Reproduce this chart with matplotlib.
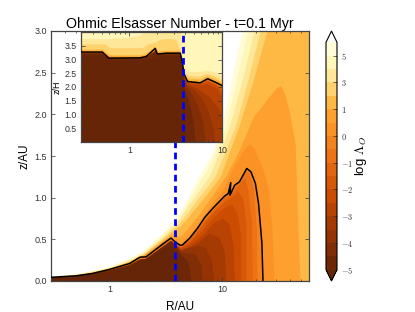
import matplotlib
matplotlib.use("Agg")
import matplotlib.pyplot as plt
from matplotlib.cm import ScalarMappable
from matplotlib.colors import BoundaryNorm, ListedColormap, Normalize

plt.rcParams["font.family"] = ["Liberation Sans"]
plt.rcParams["mathtext.fontset"] = "cm"

# log Lambda contour levels and the labels on the colorbar
levels = [-5, -4.5, -4, -3.5, -3, -2.5, -2, -1.5, -1, -0.5, 0, 0.5, 1, 2, 3, 4, 5, 6]
cbar_ticks = [-5, -4, -3, -2, -1, 0, 1, 3, 5]

# main panel: (R/AU, z/AU) outline of each level
main_p6 = [(.3, .055), (.5, .08), (.7, .12), (1, .17), (1.5, .27), (2, .36), (3, .58), (3.8, .73), (4.8, .95), (6, 1.21), (7, 1.37), (8.2, 1.52), (9.8, 1.81), (12.3, 2.43), (15.1, 3.0), (17, 3.4), (60, 3.4)]
main_p5 = [(.3, .052), (.5, .077), (.7, .115), (1, .162), (1.5, .258), (2, .345), (3, .555), (3.8, .7), (4.8, .9), (6, 1.13), (7, 1.28), (8.2, 1.45), (10.8, 1.85), (13.5, 2.4), (16.9, 3.0), (19, 3.4), (60, 3.4)]
main_p4 = [(.3, .05), (.5, .075), (.7, .11), (1, .155), (1.5, .245), (2, .33), (3, .53), (3.8, .67), (4.3, .76), (5, .9), (6, 1.04), (7.7, 1.25), (10, 1.6), (11.7, 1.85), (15, 2.38), (19.4, 3.0), (22, 3.4), (60, 3.4)]
main_p3 = [(.3, .048), (.5, .07), (.7, .105), (1, .15), (1.5, .235), (2, .32), (3, .51), (3.8, .64), (4.3, .71), (5, .82), (6, .97), (7, 1.08), (8.7, 1.25), (10, 1.45), (13.2, 1.85), (17, 2.4), (22, 3.0), (25, 3.4), (60, 3.4)]
main_p2 = [(.3, .046), (.5, .068), (.7, .1), (1, .145), (1.5, .225), (2, .31), (3, .49), (3.8, .61), (4.3, .66), (5, .76), (6, .89), (7, 1.0), (8, 1.1), (9.7, 1.25), (14.2, 1.85), (19, 2.4), (25.2, 3.0), (29, 3.4), (60, 3.4)]
main_p1 = [(.3, .045), (.5, .066), (.7, .098), (1, .143), (1.5, .22), (2, .305), (3, .48), (3.7, .55), (4.3, .53), (5, .63), (6, .76), (7, .89), (8.2, 1.02), (11, 1.27), (14.2, 1.56), (19, 1.96), (26, 2.2), (31, 2.32), (33.3, 2.34), (36, 2.25), (39.6, 2.05), (45, 1.63), (46.5, 1.0), (49.5, 0)]
main_p05 = [(.3, .044), (.5, .065), (.7, .096), (1, .142), (1.5, .215), (1.85, .295), (2.1, .3), (3.5, .525), (3.8, .485), (4.3, .45), (5.1, .54), (6, .66), (7, .8), (8.2, .92), (10.5, 1.12), (12.9, 1.38), (15.8, 1.58), (17.8, 1.64), (19.4, 1.58), (23, 1.35), (26, 1.1), (28, .6), (29, 0)]
main_p0 = [(.3, .044), (.5, .062), (.7, .09), (1, .14), (1.5, .21), (1.85, .285), (2.1, .29), (3, .45), (3.5, .516), (3.8, .47), (4.2, .43), (4.4, .43), (5.1, .51), (6, .63), (7, .765), (8.2, .87), (10.5, 1.02), (11.3, 1.05), (11.9, 1.18), (11.7, 1.03), (12.9, 1.15), (14.2, 1.19), (16.5, 1.35), (18, 1.31), (19.7, 1.17), (21, .93), (22.5, .455), (23, 0)]
main_m05 = [(.3, .043), (.5, .06), (.7, .088), (1, .135), (1.5, .2), (1.85, .27), (2.1, .28), (3, .435), (3.5, .5), (3.8, .455), (4.3, .42), (5.1, .5), (6, .61), (7, .74), (8.2, .85), (10.5, 1.0), (12.9, 1.12), (14.7, 1.22), (16.3, 1.31), (17.5, 1.29), (19, 1.13), (20.3, .61), (20.6, 0)]
main_left = [(.3, .04), (.5, .056), (.7, .082), (1, .125), (1.5, .19), (1.85, .255), (2.1, .265), (3, .415), (3.5, .48), (3.8, .44)]
main_m1 = main_left + [(4.3, .41), (5.1, .49), (6, .6), (7, .72), (8.2, .84), (10.5, .99), (12.9, 1.08), (14.7, 1.18), (16, 1.23), (17, 1.09), (18.4, .69), (18.6, 0)]
main_m15 = main_left + [(4.3, .4), (5.1, .47), (6, .58), (7, .7), (8.2, .81), (10.5, .95), (12.9, 1.03), (13.7, 1.08), (15.4, .98), (16.4, .69), (16.4, 0)]
main_m2 = main_left + [(4.3, .39), (5.1, .45), (6, .54), (7, .63), (8.2, .75), (10.5, .88), (12.3, .92), (13.7, .8), (14.7, .55), (14.7, 0)]
main_m25 = main_left + [(4.3, .38), (5.1, .42), (6, .49), (7, .57), (8.2, .68), (10.1, .75), (11.6, .68), (12.6, .42), (12.9, 0)]
main_m3 = main_left + [(4.3, .37), (5.1, .4), (6, .45), (6.7, .5), (7.7, .57), (9.4, .52), (10.5, .36), (10.9, 0)]
main_m35 = main_left + [(4.3, .36), (5.1, .4), (6, .42), (7.1, .4), (8.1, .24), (8.5, 0)]
main_m4 = main_left + [(4.3, .34), (5, .33), (5.7, .32), (6.5, .2), (6.7, 0)]
main_m45 = main_left + [(4.3, .31), (4.8, .25), (5.1, .18), (5.3, 0)]
main_m5 = [(.3, .03), (.5, .05), (.7, .075), (1, .115), (1.5, .175), (1.85, .235), (2.1, .25), (3, .39), (3.5, .44), (3.8, .36), (4, .3), (4.15, .1), (4.2, 0)]

# inset: (R/AU, z/H) outline of each level
ins_p6 = [(.3, 4.2), (10, 4.2)]
ins_p5 = [(.3, 4.2), (10, 4.2)]
ins_p4 = [(.3, 3.74), (.55, 3.74), (.9, 3.78), (1.3, 3.85), (1.5, 4.0), (3.6, 4.2), (3.75, 3.0), (3.9, 2.75), (4.5, 2.55), (6, 2.55), (7, 2.6), (9, 2.5), (10, 2.4)]
ins_p3 = [(.3, 3.55), (.55, 3.55), (.62, 3.42), (1.4, 3.42), (1.6, 3.55), (1.9, 3.6), (2.1, 3.7), (2.5, 3.75), (3.2, 3.72), (3.4, 3.5), (3.6, 3.3), (3.75, 2.9), (3.9, 2.55), (4.4, 2.4), (5.8, 2.38), (7, 2.48), (8.8, 2.35), (10, 2.25)]
ins_p2 = [(.3, 3.36), (.52, 3.36), (.62, 3.16), (1.3, 3.16), (1.5, 3.2), (1.9, 3.48), (2.05, 3.3), (2.5, 3.32), (3.5, 3.32), (3.7, 3.05), (3.9, 2.5), (4.25, 2.32), (5.8, 2.28), (7, 2.4), (8.8, 2.27), (10, 2.17)]
ins_p1 = [(.3, 3.32), (.51, 3.32), (.6, 3.13), (1.3, 3.11), (1.52, 3.16), (1.9, 3.45), (2.0, 3.25), (2.54, 3.28), (3.54, 3.28), (3.7, 3.01), (3.9, 2.5), (4.25, 2.25), (5.8, 2.2), (7, 2.35), (8.8, 2.2), (10, 2.1)]
ins_p05 = [(.3, 3.29), (.51, 3.29), (.6, 3.1), (1.3, 3.08), (1.52, 3.13), (1.9, 3.42), (2.0, 3.22), (2.54, 3.25), (3.54, 3.25), (3.7, 2.98), (3.9, 2.48), (4.25, 2.22), (5.8, 2.17), (7, 2.32), (8.8, 2.17), (10, 2.07)]
ins_p0 = [(.3, 3.27), (.51, 3.27), (.6, 3.05), (1.3, 3.06), (1.52, 3.11), (1.9, 3.4), (2.0, 3.2), (2.54, 3.23), (3.54, 3.23), (3.7, 2.96), (3.9, 2.47), (4.25, 2.2), (5.8, 2.15), (7, 2.3), (8.8, 2.15), (10, 2.05)]
ins_left = [(.3, 3.22), (.51, 3.22), (.6, 3.03), (1.3, 3.03), (1.52, 3.07), (1.9, 3.3), (2.0, 3.17), (2.54, 3.19), (3.54, 3.19), (3.7, 2.92), (3.85, 2.42)]
ins_m05 = ins_left + [(4.25, 2.18), (5.8, 2.13), (7, 2.28), (8.8, 2.12), (10, 2.02)]
ins_m1 = ins_left + [(4.25, 2.17), (5.8, 2.12), (7, 2.25), (8.8, 2.09), (10, 1.98)]
ins_m15 = ins_left + [(4.25, 2.17), (5.8, 2.11), (7, 2.23), (8.8, 2.07), (10, 1.9)]
ins_m2 = ins_left + [(4.25, 2.17), (5.8, 2.1), (7, 2.2), (8.8, 2.05), (10, 1.82)]
ins_m25 = ins_left + [(4.2, 2.15), (5.8, 2.07), (7, 2.1), (8.8, 1.95), (10, 1.65)]
ins_m3 = ins_left + [(4.2, 2.1), (5, 2.0), (6, 1.85), (7.5, 1.6), (9, 1.25), (10, 1.0)]
ins_m35 = ins_left + [(4.2, 2.05), (5, 1.9), (6, 1.6), (7, 1.2), (8, .6), (8.5, 0)]
ins_m4 = ins_left + [(4.1, 2.0), (4.7, 1.75), (5.5, 1.3), (6.2, .8), (6.7, 0)]
ins_m45 = ins_left + [(4, 1.9), (4.4, 1.5), (4.9, .8), (5.2, 0)]
ins_m5 = [(.3, 3.14), (.5, 3.14), (.6, 3.0), (1.5, 2.98), (2, 3.1), (3.5, 3.12), (3.7, 2.8), (3.85, 2.3), (4, 1.2), (4.1, 0)]

# black Lambda=1 contour and dead zone edge radius
main_black = main_p0
ins_black = ins_p0
dead_zone_r = 3.8

main_curves = [main_p6, main_p5, main_p4, main_p3, main_p2, main_p1, main_p05, main_p0,
               main_m05, main_m1, main_m15, main_m2, main_m25, main_m3, main_m35, main_m4, main_m45, main_m5]
ins_curves = [ins_p6, ins_p5, ins_p4, ins_p3, ins_p2, ins_p1, ins_p05, ins_p0,
              ins_m05, ins_m1, ins_m15, ins_m2, ins_m25, ins_m3, ins_m35, ins_m4, ins_m45, ins_m5]

cmap = plt.get_cmap("YlOrBr_r")
norm = Normalize(-5, 6)
band_colors = [cmap(norm((levels[i] + levels[i + 1]) / 2)) for i in range(len(levels) - 1)]
under_color = cmap(0.0)


def draw_levels(ax, curves, xmax):
    # paint from the top level down, each one covers what lies below it
    for i, curve in enumerate(curves):
        r = [p[0] for p in curve]
        z = [p[1] for p in curve]
        if r[-1] >= xmax:
            z = z + [0, 0]
            r = r + [r[-1], .3]
        else:
            z = z + [0]
            r = r + [.3]
        band = len(levels) - 2 - i
        color = band_colors[band] if band >= 0 else under_color
        ax.fill(r, z, color=color, lw=0, zorder=1 + i * .01)


def style_axes(ax):
    ax.set_xscale("log")
    ax.xaxis.set_major_formatter(matplotlib.ticker.FuncFormatter(lambda v, p: "%d" % v))
    ax.xaxis.set_minor_formatter(matplotlib.ticker.NullFormatter())
    ax.tick_params(which="both", direction="in", top=True, right=True, labelsize=6.5,
                   colors="#333333", width=.5, pad=3)
    ax.tick_params(which="major", length=3)
    ax.tick_params(which="minor", length=1.5)
    for s in ax.spines.values():
        s.set_linewidth(.9)
        s.set_color("#444444")


fig = plt.figure(figsize=(4.15, 3.12), dpi=100)
ax = fig.add_axes([51 / 415, 31 / 312, 258 / 415, 250 / 312])
style_axes(ax)
draw_levels(ax, main_curves, 60)
ax.plot([p[0] for p in main_black], [p[1] for p in main_black], color="k", lw=1.1, zorder=3)
ax.plot([dead_zone_r, dead_zone_r], [0, 3], color="#0000ff", lw=2, dashes=(2.4, 1.6), zorder=4)
ax.set_xlim(.3, 59)
ax.set_ylim(0, 3)
ax.set_yticks([0, .5, 1, 1.5, 2, 2.5, 3])
ax.set_xlabel("R/AU", fontsize=8.5, labelpad=5)
ax.set_ylabel("z/AU", fontsize=8.5, labelpad=3)
ax.set_title("Ohmic Elsasser Number - t=0.1 Myr", fontsize=10.3, pad=2)

ins = fig.add_axes([81 / 415, 170 / 312, 141 / 415, 110 / 312], zorder=5)
style_axes(ins)
draw_levels(ins, ins_curves, 10)
ins.plot([p[0] for p in ins_black], [p[1] for p in ins_black], color="k", lw=1.1, zorder=3)
ins.plot([dead_zone_r, dead_zone_r], [0, 4], color="#0000ff", lw=2, dashes=(2.4, 1.6), zorder=4)
ins.set_xlim(.3, 10)
ins.set_ylim(0, 4)
ins.set_yticks([.5, 1, 1.5, 2, 2.5, 3, 3.5])
ins.tick_params(labelsize=6.3)
ins.set_ylabel("z/H", fontsize=6.5, labelpad=2)

cax = fig.add_axes([326 / 415, 31 / 312, 11 / 415, 250 / 312])
cb_cmap = ListedColormap(band_colors)
cb_cmap.set_under(under_color)
cb_cmap.set_over("#ffffff")
sm = ScalarMappable(norm=BoundaryNorm(levels, len(levels) - 1, extend="neither"), cmap=cb_cmap)
cb = fig.colorbar(sm, cax=cax, extend="both", extendfrac=.05, spacing="uniform", ticks=[levels[i] for i in range(0, 17, 2)])
cb.ax.set_yticklabels(["$%d$" % v for v in cbar_ticks], fontsize=6, color="#333333")
cb.ax.tick_params(direction="in", length=3, width=.5, color="#333333", pad=3, which="major")
cb.ax.minorticks_off()
cb.outline.set_linewidth(.8)
cb.set_label(r"log $\Lambda_O$", fontsize=9.5, labelpad=0)

fig.savefig("out.png", dpi=100)
